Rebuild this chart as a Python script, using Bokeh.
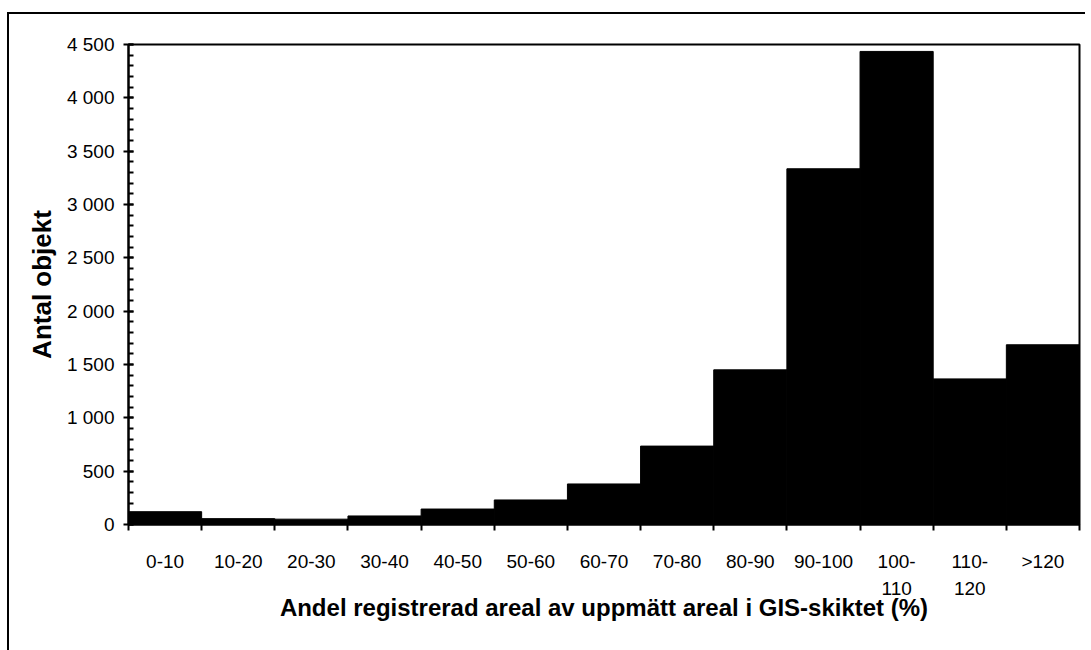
from bokeh.plotting import figure
from bokeh.models import (FixedTicker, SingleIntervalTicker, CustomJSTickFormatter,
                          InlineStyleSheet, Range1d, ColumnDataSource)
from bokeh.embed import file_html
from bokeh.resources import INLINE

categories = ["0-10", "10-20", "20-30", "30-40", "40-50", "50-60", "60-70",
              "70-80", "80-90", "90-100", "100-110", "110-120", ">120"]
tick_labels = ["0-10", "10-20", "20-30", "30-40", "40-50", "50-60", "60-70",
               "70-80", "80-90", "90-100", "100-\n110", "110-\n120", ">120"]
counts = [120, 55, 50, 80, 145, 230, 380, 735, 1450, 3335, 4435, 1365, 1685]

x_title = "Andel registrerad areal av uppmätt areal i GIS-skiktet (%)"
y_title = "Antal objekt"

n = len(categories)
centers = [i + 0.5 for i in range(n)]
edges = list(range(n + 1))
src = ColumnDataSource(dict(x=centers, count=counts, cat=categories))

FONT = "Liberation Sans"

p = figure(width=1091, height=650, output_backend="svg", toolbar_location=None,
           x_range=Range1d(0, n), y_range=Range1d(0, 4500),
           min_border_left=128, min_border_right=12, min_border_top=44,
           min_border_bottom=126)

p.vbar(x="x", top="count", width=1, source=src, fill_color="black",
       line_color="black", line_width=1)

p.xgrid.visible = False
p.ygrid.visible = False
p.outline_line_color = "black"
p.outline_line_width = 2
p.background_fill_color = "white"
p.border_fill_color = "white"

xa = p.xaxis[0]
xa.ticker = FixedTicker(ticks=centers, minor_ticks=edges)
xa.formatter = CustomJSTickFormatter(args=dict(labels=tick_labels),
                                     code="return labels[Math.floor(tick)]")
xa.major_tick_in = 0
xa.major_tick_out = 0
xa.minor_tick_in = 0
xa.minor_tick_out = 6
xa.minor_tick_line_width = 2
xa.minor_tick_line_color = "black"
xa.axis_line_width = 2
xa.axis_line_color = "black"
xa.major_label_text_font = FONT
xa.major_label_text_font_size = "19px"
xa.major_label_text_color = "black"
xa.major_label_text_line_height = 1.3
xa.major_label_standoff = 20
xa.axis_label = x_title
xa.axis_label_text_font = FONT
xa.axis_label_text_font_style = "bold"
xa.axis_label_text_font_size = "24px"
xa.axis_label_text_color = "black"
xa.axis_label_standoff = -8

ya = p.yaxis[0]
ya.ticker = SingleIntervalTicker(interval=500, num_minor_ticks=5)
ya.formatter = CustomJSTickFormatter(
    code=r"return tick.toFixed(0).replace(/\B(?=(\d{3})+(?!\d))/g, ' ')")
ya.major_tick_in = 5
ya.major_tick_out = 5
ya.minor_tick_in = 5
ya.minor_tick_out = 0
ya.major_tick_line_width = 2
ya.minor_tick_line_width = 2
ya.major_tick_line_color = "black"
ya.minor_tick_line_color = "black"
ya.axis_line_width = 2
ya.axis_line_color = "black"
ya.major_label_text_font = FONT
ya.major_label_text_font_size = "19px"
ya.major_label_text_color = "black"
ya.major_label_standoff = 9
ya.axis_label = y_title
ya.axis_label_text_font = FONT
ya.axis_label_text_font_style = "bold"
ya.axis_label_text_font_size = "26px"
ya.axis_label_text_color = "black"
ya.axis_label_standoff = 7

# outer chart frame: only its top and left edges fall inside the window
p.stylesheets = [InlineStyleSheet(css="""
:host { overflow: hidden; }
:host::before, :host::after {
  content: '';
  position: absolute;
  left: 7px;
  top: 12px;
  background: #000;
  border: 0;
  outline: 0;
  box-shadow: none;
  pointer-events: none;
  z-index: 10;
}
:host::before { width: 1078px; height: 2px; }
:host::after { width: 2px; height: 638px; }
""")]

open("out.html", "w").write(file_html(p, INLINE))
